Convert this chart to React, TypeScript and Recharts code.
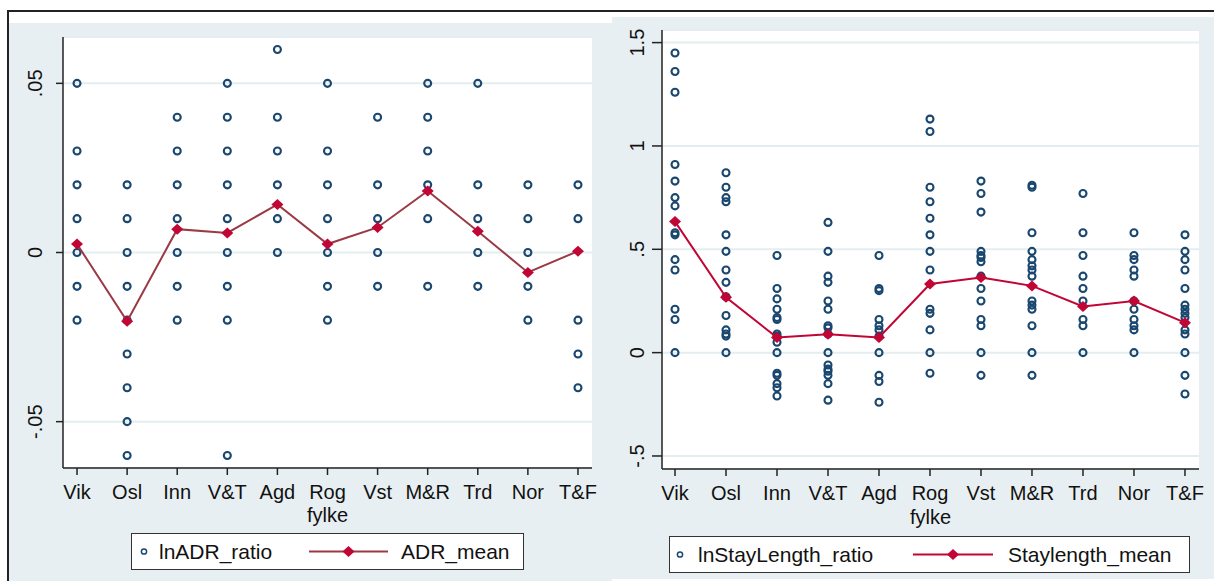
import React from "react";
import { ComposedChart, Scatter, XAxis, YAxis, CartesianGrid, Label } from "recharts";

const fylker = ["Vik", "Osl", "Inn", "V&T", "Agd", "Rog", "Vst", "M&R", "Trd", "Nor", "T&F"];

// lnADR_ratio, one list per fylke
const adrRatio = [
  [0.05, 0.03, 0.02, 0.01, 0, -0.01, -0.02],
  [0.02, 0.01, 0, -0.01, -0.02, -0.03, -0.04, -0.05, -0.06],
  [0.04, 0.03, 0.02, 0.01, 0, -0.01, -0.02],
  [0.05, 0.04, 0.03, 0.02, 0.01, 0, -0.01, -0.02, -0.06],
  [0.06, 0.04, 0.03, 0.02, 0.01, 0],
  [0.05, 0.03, 0.02, 0.01, 0, -0.01, -0.02],
  [0.04, 0.02, 0.01, 0, -0.01],
  [0.05, 0.04, 0.03, 0.02, 0.01, -0.01],
  [0.05, 0.02, 0.01, 0, -0.01],
  [0.02, 0.01, 0, -0.01, -0.02],
  [0.02, 0.01, -0.02, -0.03, -0.04],
];
const adrMean = [0.0025, -0.0203, 0.0069, 0.0058, 0.0142, 0.0025, 0.0074, 0.0182, 0.0063, -0.0059, 0.0004];
const adrTicks = [-0.05, 0, 0.05];
const adrTickLabels = ["-.05", "0", ".05"];

// lnStayLength_ratio, one list per fylke
const stayRatio = [
  [1.45, 1.36, 1.26, 0.91, 0.83, 0.75, 0.71, 0.58, 0.57, 0.45, 0.4, 0.21, 0.16, 0],
  [0.87, 0.8, 0.75, 0.73, 0.57, 0.49, 0.4, 0.34, 0.27, 0.18, 0.11, 0.09, 0.08, 0],
  [0.47, 0.31, 0.26, 0.21, 0.17, 0.16, 0.09, 0.08, 0.05, 0, -0.1, -0.11, -0.15, -0.17, -0.21],
  [0.63, 0.49, 0.37, 0.34, 0.25, 0.21, 0.13, 0.12, 0.09, 0, -0.06, -0.08, -0.09, -0.11, -0.15, -0.23],
  [0.47, 0.31, 0.3, 0.16, 0.13, 0.11, 0.08, 0, -0.11, -0.14, -0.24],
  [1.13, 1.07, 0.8, 0.73, 0.65, 0.57, 0.49, 0.4, 0.21, 0.19, 0.11, 0, -0.1],
  [0.83, 0.77, 0.68, 0.49, 0.47, 0.46, 0.44, 0.37, 0.31, 0.25, 0.16, 0.13, 0, -0.11],
  [0.81, 0.8, 0.58, 0.49, 0.45, 0.42, 0.4, 0.37, 0.25, 0.23, 0.21, 0.13, 0, -0.11],
  [0.77, 0.58, 0.47, 0.37, 0.31, 0.25, 0.16, 0.13, 0],
  [0.58, 0.47, 0.45, 0.4, 0.37, 0.25, 0.21, 0.16, 0.13, 0.11, 0],
  [0.57, 0.49, 0.45, 0.4, 0.31, 0.23, 0.21, 0.19, 0.17, 0.11, 0.09, 0, -0.11, -0.2],
];
const stayMean = [0.634, 0.268, 0.073, 0.089, 0.073, 0.332, 0.363, 0.323, 0.223, 0.25, 0.145];
const stayTicks = [-0.5, 0, 0.5, 1, 1.5];
const stayTickLabels = ["-.5", "0", ".5", "1", "1.5"];

const NAVY = "#1a476f";
const CRANBERRY = "#c10534";
const MAROON = "#9b3a45";
const PANEL = "#e8eff2";
const GRID = "#e4eef0";
const AXIS = "#222";
const FONT = "'Liberation Sans', Arial, sans-serif";

const toPoints = (groups: number[][]) =>
  groups.flatMap((vals, i) => vals.map((v) => ({ x: i + 1, y: v })));
const toMeans = (vals: number[]) => vals.map((v, i) => ({ x: i + 1, y: v }));

const Hollow = (p: any) => (
  <circle cx={p.cx} cy={p.cy} r={3.5} fill="none" stroke={NAVY} strokeWidth={2.1} />
);
const Diamond = (p: any) => (
  <polygon
    points={`${p.cx},${p.cy - 5.5} ${p.cx + 6},${p.cy} ${p.cx},${p.cy + 5.5} ${p.cx - 6},${p.cy}`}
    fill={CRANBERRY}
  />
);

function makeYTick(ticks: number[], labels: string[], shift: number) {
  return (p: any) => {
    const i = ticks.findIndex((t) => Math.abs(t - p.payload.value) < 1e-9);
    return (
      <text
        x={0}
        y={0}
        transform={`translate(${p.x + shift},${p.y}) rotate(-90)`}
        textAnchor="middle"
        fontSize={20}
        fontFamily={FONT}
        fill="#111"
      >
        {labels[i]}
      </text>
    );
  };
}

interface PanelProps {
  left: number;
  top: number;
  width: number;
  height: number;
  margin: { top: number; right: number; left: number; bottom: number };
  yWidth: number;
  xHeight: number;
  xDomain: [number, number];
  yDomain: [number, number];
  yTicks: number[];
  yLabels: string[];
  yTickSize: number;
  yShift: number;
  titleOffset: number;
  ratio: number[][];
  mean: number[];
  lineColor: string;
}

function Panel(p: PanelProps) {
  return (
    <div style={{ position: "absolute", left: p.left, top: p.top }}>
      <ComposedChart width={p.width} height={p.height} margin={p.margin}>
        <CartesianGrid vertical={false} stroke={GRID} strokeWidth={2} fill="#ffffff" fillOpacity={1} />
        <XAxis
          dataKey="x"
          type="number"
          domain={p.xDomain}
          allowDataOverflow
          ticks={fylker.map((_, i) => i + 1)}
          tickFormatter={(v: number) => fylker[v - 1]}
          interval={0}
          height={p.xHeight}
          tickSize={7}
          tickMargin={10}
          stroke={AXIS}
          strokeWidth={1.5}
          tick={{ fontSize: 20, fontFamily: FONT, fill: "#111" }}
        >
          <Label
            value="fylke"
            position="insideBottom"
            offset={p.titleOffset}
            style={{ fontSize: 20, fontFamily: FONT, fill: "#111" }}
          />
        </XAxis>
        <YAxis
          dataKey="y"
          type="number"
          domain={p.yDomain}
          allowDataOverflow
          ticks={p.yTicks}
          width={p.yWidth}
          tickSize={p.yTickSize}
          stroke={AXIS}
          strokeWidth={1.5}
          tick={makeYTick(p.yTicks, p.yLabels, p.yShift)}
        />
        <Scatter data={toPoints(p.ratio)} shape={Hollow} isAnimationActive={false} />
        <Scatter
          data={toMeans(p.mean)}
          shape={Diamond}
          line={{ stroke: p.lineColor, strokeWidth: 2 }}
          lineType="joint"
          isAnimationActive={false}
        />
      </ComposedChart>
    </div>
  );
}

const legendText: React.CSSProperties = {
  position: "absolute",
  top: 0,
  lineHeight: "35px",
  fontSize: 21,
  fontFamily: FONT,
  color: "#111",
  whiteSpace: "nowrap",
};

function LegendBox(props: {
  left: number;
  top: number;
  width: number;
  circleX: number;
  label1X: number;
  lineX1: number;
  lineX2: number;
  label2X: number;
  label1: string;
  label2: string;
  lineColor: string;
}) {
  const mid = (props.lineX1 + props.lineX2) / 2;
  return (
    <div
      style={{
        position: "absolute",
        left: props.left,
        top: props.top,
        width: props.width,
        height: 35,
        border: "1.5px solid #333",
        background: "#fff",
      }}
    >
      <svg width={props.width} height={35} style={{ position: "absolute", left: 0, top: 0 }}>
        <circle cx={props.circleX} cy={17.5} r={2.6} fill="none" stroke={NAVY} strokeWidth={1.5} />
        <line x1={props.lineX1} y1={17.5} x2={props.lineX2} y2={17.5} stroke={props.lineColor} strokeWidth={2} />
        <polygon points={`${mid},12 ${mid + 6},17.5 ${mid},23 ${mid - 6},17.5`} fill={CRANBERRY} />
      </svg>
      <span style={{ ...legendText, left: props.label1X }}>{props.label1}</span>
      <span style={{ ...legendText, left: props.label2X }}>{props.label2}</span>
    </div>
  );
}

export default function App() {
  return (
    <div style={{ position: "fixed", left: 0, top: 0, width: 1214, height: 581, background: "#fff", overflow: "hidden" }}>
      <div style={{ position: "absolute", left: 7, top: 10, width: 1207, height: 2, background: "#222" }} />
      <div style={{ position: "absolute", left: 7, top: 10, width: 2, height: 571, background: "#222" }} />
      <div style={{ position: "absolute", left: 9, top: 23, width: 603, height: 558, background: PANEL }} />
      <div style={{ position: "absolute", left: 612, top: 17, width: 602, height: 562, background: PANEL }} />

      <Panel
        left={9}
        top={23}
        width={601}
        height={510}
        margin={{ top: 14, right: 18, left: 0, bottom: 0 }}
        yWidth={54}
        xHeight={65}
        xDomain={[0.72, 11.28]}
        yDomain={[-0.0637, 0.0637]}
        yTicks={adrTicks}
        yLabels={adrTickLabels}
        yTickSize={7}
        yShift={-12}
        titleOffset={11}
        ratio={adrRatio}
        mean={adrMean}
        lineColor={MAROON}
      />
      <Panel
        left={612}
        top={17}
        width={602}
        height={520}
        margin={{ top: 13, right: 15, left: 0, bottom: 0 }}
        yWidth={50}
        xHeight={68}
        xDomain={[0.745, 11.275]}
        yDomain={[-0.563, 1.561]}
        yTicks={stayTicks}
        yLabels={stayTickLabels}
        yTickSize={10}
        yShift={-6}
        titleOffset={13}
        ratio={stayRatio}
        mean={stayMean}
        lineColor={CRANBERRY}
      />

      <LegendBox
        left={131}
        top={533}
        width={391}
        circleX={12}
        label1X={27}
        lineX1={177}
        lineX2={256}
        label2X={269}
        label1="lnADR_ratio"
        label2="ADR_mean"
        lineColor={MAROON}
      />
      <LegendBox
        left={669}
        top={536}
        width={519}
        circleX={10}
        label1X={28}
        lineX1={243}
        lineX2={323}
        label2X={338}
        label1="lnStayLength_ratio"
        label2="Staylength_mean"
        lineColor={CRANBERRY}
      />
    </div>
  );
}
